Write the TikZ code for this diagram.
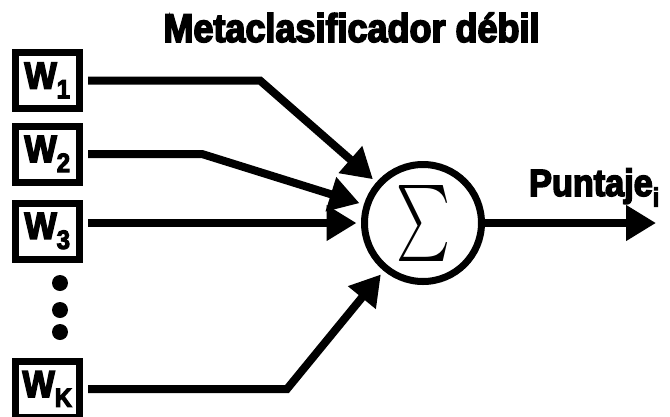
\documentclass[tikz,border=0pt]{standalone}
\usepackage{fontspec}
\usepackage{amsmath}
\usepackage{graphicx}
\usepackage{tikz}
\usetikzlibrary{arrows.meta}
\newfontfamily\heavyfont{Liberation Sans}[FakeStretch=0.9,FakeBold=4]

\begin{document}
\begin{tikzpicture}[x=1pt,y=-1pt,
  wbox/.style={draw,line width=7pt,minimum width=64pt,minimum height=56pt,inner sep=0pt,
    font=\heavyfont\bfseries\fontsize{38}{38}\selectfont},
  arr/.style={line width=8pt,-{Triangle[length=30pt,width=34pt]}}]
   \useasboundingbox (0,0) rectangle (670,416);
   \clip (0,0) rectangle (670,416);
   \node[anchor=base,font=\heavyfont\bfseries\fontsize{40}{40}\selectfont] (title) at (351.5,42) {Metaclasificador débil};
   \node[wbox] (w1) at (47.5,80.5) {W\textsubscript{1}};
   \node[wbox] (w2) at (47.5,154) {W\textsubscript{2}};
   \node[wbox] (w3) at (47.5,231) {W\textsubscript{3}};
   \node[wbox] (wk) at (47.5,389) {W\textsubscript{K}};
   \fill (60,283) circle (8);
   \fill (60,310) circle (8);
   \fill (60,332) circle (8);
   \node[circle,draw,line width=7pt,minimum size=117pt,inner sep=0pt,outer sep=8pt] (sum) at (423,223)
      {\resizebox{54pt}{57pt}{$\textstyle\sum$}};
   \draw[arr,shorten <=5pt] (w1.east) -- ++(177,0) -- (sum);
   \draw[arr,shorten <=5pt] (w2.east) -- ++(119,0) -- (sum);
   \draw[arr,shorten <=5pt] (w3.east |- sum) -- (sum);
   \draw[arr,shorten <=5pt] (wk.east) -- ++(204,0) -- (sum);
   \coordinate (out) at (656,223);
   \draw[arr,shorten <=-5pt] (sum) -- (out);
   \node[anchor=base west,inner sep=0pt,font=\heavyfont\bfseries\fontsize{38}{38}\selectfont] (score) at (529,196) {Puntaje\textsubscript{i}};
\end{tikzpicture}
\end{document}
